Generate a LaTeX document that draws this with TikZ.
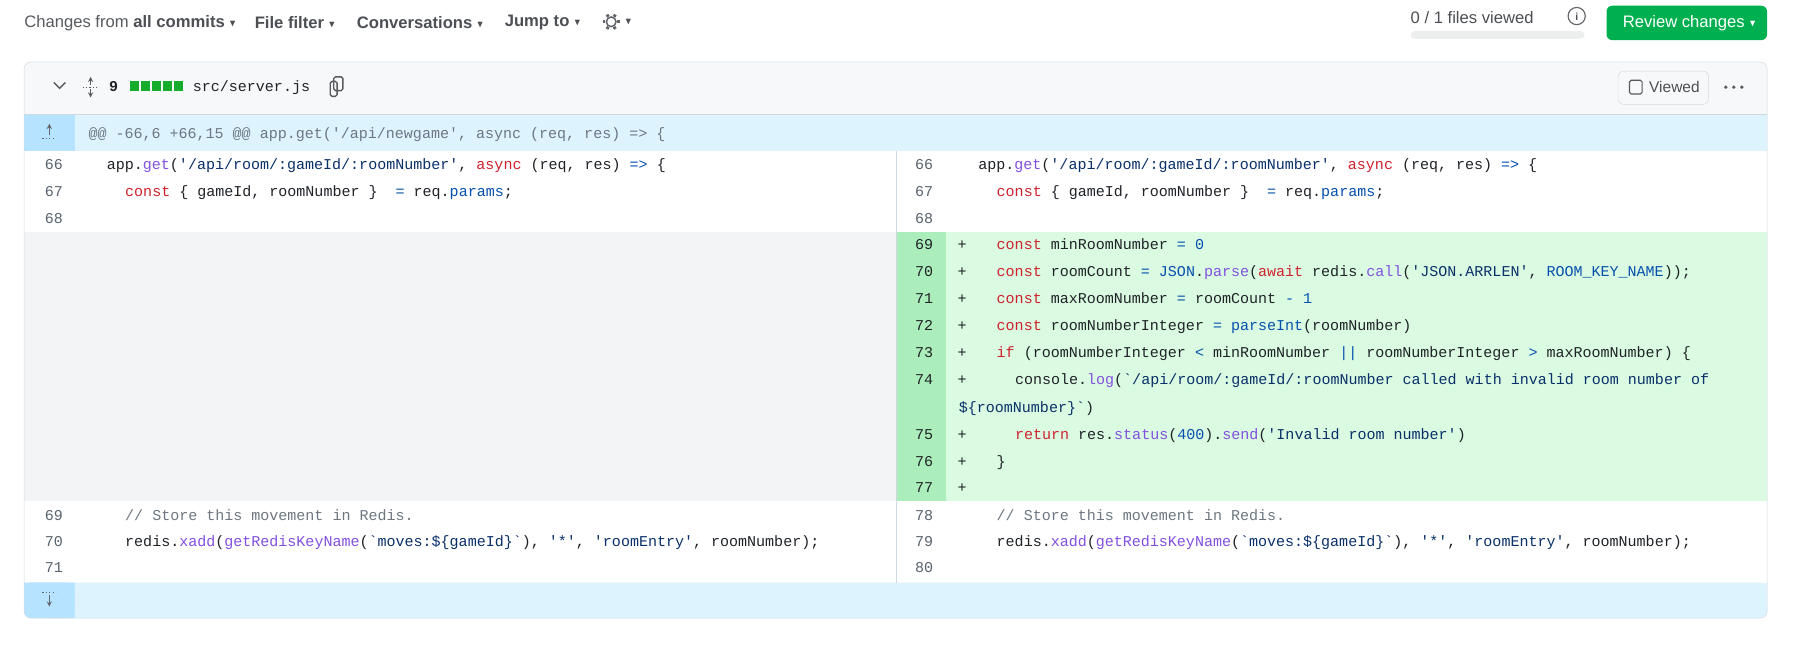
\documentclass[tikz,border=0pt]{standalone}
\usepackage{amssymb}
\usepackage{fontspec}
\usetikzlibrary{calc}
\setmainfont{Liberation Sans}
\newfontfamily\codef{Liberation Mono}
\definecolor{ckwc}{HTML}{CF222E}
\definecolor{cfnc}{HTML}{8250DF}
\definecolor{cblc}{HTML}{0550AE}
\definecolor{cstc}{HTML}{0A3069}
\definecolor{ccmc}{HTML}{6E7781}
\definecolor{ctx}{HTML}{1F2328}
\definecolor{cnum}{HTML}{59636E}
\definecolor{bord}{HTML}{D1D9E0}
\definecolor{hdrbg}{HTML}{F6F8FA}
\definecolor{hunkbg}{HTML}{DDF4FF}
\definecolor{hunkno}{HTML}{B6E3FF}
\definecolor{addbg}{HTML}{DAFBE1}
\definecolor{addno}{HTML}{ACEEBB}
\definecolor{emptybg}{HTML}{F3F4F6}
\definecolor{ghgreen}{HTML}{1F883D}
\definecolor{ghbtn}{HTML}{00B050}
\newcommand\ckw[1]{\textcolor{ckwc}{#1}}
\newcommand\cfn[1]{\textcolor{cfnc}{#1}}
\newcommand\cbl[1]{\textcolor{cblc}{#1}}
\newcommand\cst[1]{\textcolor{cstc}{#1}}
\newcommand\ccm[1]{\textcolor{ccmc}{#1}}
\newcommand\dtri{\raisebox{1pt}{\footnotesize$\blacktriangledown$}}
\tikzset{
 cd/.style={anchor=base west,inner sep=0,text=ctx,font=\codef\fontsize{13.1}{16}\selectfont},
 ln/.style={anchor=base east,inner sep=0,text=cnum,font=\codef\fontsize{13.1}{16}\selectfont},
 ui/.style={anchor=west,inner sep=0,text=ctx!80,font=\fontsize{14.5}{17}\selectfont},
}
\begin{document}
\begin{tikzpicture}[x=1pt,y=-1pt]
\useasboundingbox (0,0) rectangle (1568,567);
\fill[white] (0,0) rectangle (1568,567);
% top bar
\node[ui] (chg) at (21,20) {\textcolor{ctx!75}{Changes from} \textbf{all commits} \dtri};
\node[ui] (ff) at (222,20) {\textbf{File filter} \dtri};
\node[ui] (cv) at (311,20) {\textbf{Conversations} \dtri};
\node[ui] (jt) at (440,20) {\textbf{Jump to} \dtri};
\draw[ctx!70,line width=1.3pt] (533,19) circle (4.2);
\foreach \a in {0,60,...,300} \draw[ctx!70,line width=2.6pt] ($(533,19)+(\a:5)$) -- ($(533,19)+(\a:7.3)$);
\node[ui] (gd) at (545,20) {\dtri};
\node[ui] (fv) at (1230,15) {0 / 1 files viewed};
\fill[hdrbg!70!gray!40] (1230,27) [rounded corners=4pt] rectangle (1382,34);
\draw[ctx!70,line width=1pt] (1375,14) circle (7.5);
\node[inner sep=0,font=\fontsize{9}{10}\selectfont\bfseries,text=ctx!80] (info) at (1375,14.5) {i};
\fill[ghbtn,rounded corners=5pt] (1401,5) rectangle (1541,35);
\node[ui,text=white] (rc) at (1415,20) {Review changes \dtri};
% main box
\fill[hdrbg,rounded corners=6pt] (21,54) rectangle (1541,108);
\fill[hdrbg] (21,90) rectangle (1541,100);
\fill[hunkbg] (21,100) rectangle (1541,132);
\fill[hunkno] (21,100) rectangle (65,132);
\fill[white] (21,132) rectangle (1541,508);
\fill[emptybg] (21,202) rectangle (782,437);
\fill[addbg] (782,202) rectangle (1541,437);
\fill[addno] (782,202) rectangle (825,437);
\fill[hunkbg,rounded corners=6pt] (21,508) rectangle (1541,539);
\fill[hunkbg] (21,508) rectangle (1541,520);
\fill[hunkno,rounded corners=6pt] (21,508) rectangle (65,539);
\fill[hunkno] (21,508) rectangle (65,520) (40,508) rectangle (65,539);
\draw[bord] (21,100) -- (1541,100);
\draw[bord] (782,132) -- (782,508);
\draw[bord,rounded corners=6pt] (21,54) rectangle (1541,539);
% header
\draw[ctx!75,line width=1.2pt] (47,72) -- (52,77) -- (57,72);
\draw[ctx!75,line width=1pt,->,>=stealth] (79,74) -- (79,67);
\draw[ctx!75,line width=1pt,->,>=stealth] (79,78) -- (79,85);
\draw[ctx!75,dotted,line width=1pt] (72,76) -- (86,76);
\node[cd,font=\codef\bfseries\fontsize{13.1}{16}\selectfont] (nine) at (95,80) {9};
\foreach \i in {0,1,2,3,4} \fill[ghgreen!70!green] (113+9.6*\i,71) rectangle ++(8,8);
\node[cd] (fn) at (168,80) {src/server.js};
\draw[ctx!75,line width=1.2pt,rounded corners=1.5pt] (288,71) rectangle (294,84);
\draw[ctx!75,line width=1.2pt,rounded corners=1.5pt] (291,67) rectangle (299,79);
\draw[bord,fill=hdrbg,rounded corners=5pt] (1411,62) rectangle (1490,91);
\draw[ctx!75,line width=1pt,rounded corners=1.5pt] (1421,70) rectangle (1432,82);
\node[ui,font=\fontsize{13.5}{16}\selectfont] (vw) at (1438,76) {Viewed};
\foreach \i in {0,1,2} \fill[ctx!75] (1505+7*\i,76) circle (1.6);
% hunk
\draw[ctx!70,->,>=stealth,line width=1pt] (43,118) -- (43,108);
\draw[ctx!70,dotted,line width=1pt] (37,121) -- (49,121);
\node[cd,text=ccmc] (h1) at (77,120.5) {@@ -66,6 +66,15 @@ app.get('/api/newgame', async (req, res) => \{};
\draw[ctx!70,dotted,line width=1pt] (37,517) -- (49,517);
\draw[ctx!70,->,>=stealth,line width=1pt] (43,519) -- (43,529);
% left
\node[ln] at (55,147.5) {66};
\node[cd] at (93,147.5) {app.\cfn{get}(\cst{'/api/room/:gameId/:roomNumber'}, \ckw{async} (req, res) \cbl{=>} \{};
\node[ln] at (55,171.5) {67};
\node[cd] at (109,171.5) {\ckw{const} \{ gameId, roomNumber \}~ \cbl{=} req.\cbl{params};};
\node[ln] at (55,194.5) {68};
\node[ln] at (55,453.5) {69};
\node[cd] at (109,453.5) {\ccm{// Store this movement in Redis.}};
\node[ln] at (55,476.5) {70};
\node[cd] at (109,476.5) {redis.\cfn{xadd}(\cfn{getRedisKeyName}(\cst{`moves:\$\{gameId\}`}), \cst{'*'}, \cst{'roomEntry'}, roomNumber);};
\node[ln] at (55,499.5) {71};
% right
\node[ln] at (814,147.5) {66};
\node[cd] at (853,147.5) {app.\cfn{get}(\cst{'/api/room/:gameId/:roomNumber'}, \ckw{async} (req, res) \cbl{=>} \{};
\node[ln] at (814,171.5) {67};
\node[cd] at (869,171.5) {\ckw{const} \{ gameId, roomNumber \}~ \cbl{=} req.\cbl{params};};
\node[ln] at (814,194.5) {68};
\foreach \n/\y in {69/217.5,70/241.5,71/264.5,72/288.5,73/311.5,74/335.5,75/383.5,76/406.5,77/429.5}{
  \node[ln,text=ctx] at (814,\y) {\n};
  \node[cd] at (835,\y) {+};
}
\node[cd] at (869,217.5) {\ckw{const} minRoomNumber \cbl{=} \cbl{0}};
\node[cd] at (869,241.5) {\ckw{const} roomCount \cbl{=} \cbl{JSON}.\cfn{parse}(\ckw{await} redis.\cfn{call}(\cst{'JSON.ARRLEN'}, \cbl{ROOM\_KEY\_NAME}));};
\node[cd] at (869,264.5) {\ckw{const} maxRoomNumber \cbl{=} roomCount \cbl{-} \cbl{1}};
\node[cd] at (869,288.5) {\ckw{const} roomNumberInteger \cbl{=} \cbl{parseInt}(roomNumber)};
\node[cd] at (869,311.5) {\ckw{if} (roomNumberInteger \cbl{<} minRoomNumber \cbl{||} roomNumberInteger \cbl{>} maxRoomNumber) \{};
\node[cd] at (885,335.5) {console.\cfn{log}(\cst{`/api/room/:gameId/:roomNumber called with invalid room number of}};
\node[cd] at (836,359.5) {\cst{\$\{roomNumber\}`})};
\node[cd] at (885,383.5) {\ckw{return} res.\cfn{status}(\cbl{400}).\cfn{send}(\cst{'Invalid room number'})};
\node[cd] at (869,406.5) {\}};
\node[ln] at (814,453.5) {78};
\node[cd] at (869,453.5) {\ccm{// Store this movement in Redis.}};
\node[ln] at (814,476.5) {79};
\node[cd] at (869,476.5) {redis.\cfn{xadd}(\cfn{getRedisKeyName}(\cst{`moves:\$\{gameId\}`}), \cst{'*'}, \cst{'roomEntry'}, roomNumber);};
\node[ln] at (814,499.5) {80};
\end{tikzpicture}
\end{document}
